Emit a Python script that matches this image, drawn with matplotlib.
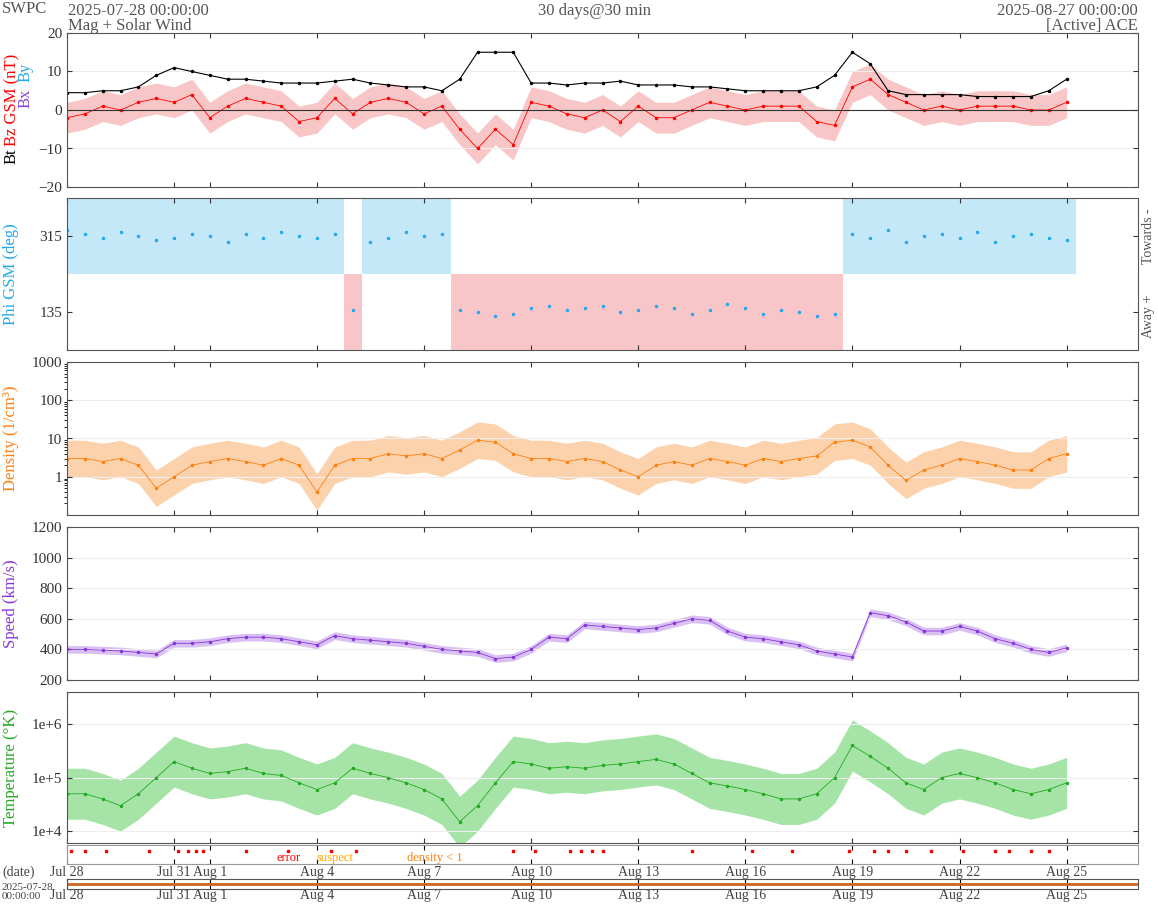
import numpy as np
import matplotlib
matplotlib.use("Agg")
import matplotlib.pyplot as plt

plt.rcParams['font.family'] = ['Liberation Serif', 'DejaVu Serif']

days = [i * 0.5 for i in range(57)]
bt = [4.5,4.5,5,5,6,9,11,10,9,8,8,7.5,7,7,7,7.5,8,7,6.5,6,6,5,8,15,15,15,7,7,6.5,7,7,7.5,6.5,6.5,6.5,6,6,5.5,5,5,5,5,6,9,15,12,5,4,4,4,4,3.5,3.5,3.5,3.5,5,8]
bz = [-2,-1,1,0,2,3,2,4,-2,1,3,2,1,-3,-2,3,-1,2,3,2,-1,1,-5,-10,-5,-9,2,1,-1,-2,0,-3,1,-2,-2,0,2,1,0,1,1,1,-3,-4,6,8,4,2,0,1,0,1,1,1,0,0,2]
phi = [330,320,310,325,315,305,310,320,315,300,320,310,325,315,310,320,140,300,310,325,315,320,140,135,125,130,145,150,140,145,150,135,140,150,145,130,140,155,145,130,140,135,125,130,320,310,330,300,315,320,310,325,300,315,320,310,305]
dens = [3,3,2.5,3,2,0.5,1,2,2.5,3,2.5,2,3,2,0.4,2,3,3,4,3.5,4,3,5,9,8,4,3,3,2.5,3,2.5,1.5,1,2,2.5,2,3,2.5,2,3,2.5,3,3.5,8,9,6,2,0.8,1.5,2,3,2.5,2,1.5,1.5,3,4]
speed = [400,400,395,390,380,370,440,440,450,470,480,480,470,450,430,490,470,460,450,440,420,400,390,380,340,350,400,480,470,560,550,540,530,540,570,600,590,520,480,470,450,430,390,370,350,640,620,580,520,520,550,520,470,440,400,380,410]
temp = [5e4,5e4,4e4,3e4,5e4,1e5,2e5,1.5e5,1.2e5,1.3e5,1.5e5,1.2e5,1.1e5,8e4,6e4,8e4,1.5e5,1.2e5,1e5,8e4,6e4,4e4,1.5e4,3e4,8e4,2e5,1.8e5,1.5e5,1.6e5,1.5e5,1.7e5,1.8e5,2e5,2.2e5,1.8e5,1.2e5,8e4,7e4,6e4,5e4,4e4,4e4,5e4,1e5,4e5,2.5e5,1.5e5,8e4,6e4,1e5,1.2e5,1e5,8e4,6e4,5e4,6e4,8e4]
flag_err = [0.1,0.5,1.1,2.3,3.1,3.4,3.6,3.8,5.0,6.2,7.4,8.1,12.5,13.1,14.1,14.4,14.7,15.0,17.5,19.2,20.3,21.9,22.6,23.0,23.5,24.2,25.1,26.0,26.4,27.0,27.5]

tick_days = [0,3,4,7,10,13,16,19,22,25,28]
tick_lbls = ['Jul 28','Jul 31','Aug 1','Aug 4','Aug 7','Aug 10','Aug 13','Aug 16','Aug 19','Aug 22','Aug 25']

W, H = 1158, 905
fig = plt.figure(figsize=(W/100, H/100), dpi=100)
def ax_px(top, bot, l=67, r=1138):
    return fig.add_axes([l/W, 1-bot/H, (r-l)/W, (bot-top)/H])

gray = '#555555'
panels = [(33,187),(198,350),(362,515),(527,680),(692,843)]
axs = [ax_px(t,b) for t,b in panels]
d = np.array(days)
for a in axs:
    a.set_xlim(0,30)
    a.set_xticks(tick_days); a.set_xticklabels([])
    a.tick_params(direction='in', top=True, right=True, labelsize=11, colors='#333333')
    a.grid(axis='y', color='#eeeeee', lw=0.8)
    for s in a.spines.values(): s.set_color('#555555')

# panel 1
a = axs[0]
a.fill_between(d, np.array(bz)-4, np.array(bz)+4, color='#f4a0a0', alpha=0.6, lw=0)
a.plot(d, bz, color='red', lw=0.6, marker='.', ms=3)
a.plot(d, bt, color='black', lw=0.8, marker='.', ms=3)
a.axhline(0, color='#333333', lw=0.8)
a.set_ylim(-20,20); a.set_yticks([-20,-10,0,10,20])
fig.text(12/W, 1-156/H, 'Bt', rotation=90, color='black', fontsize=12, va='center', ha='center')
fig.text(12/W, 1-100/H, 'Bz GSM (nT)', rotation=90, color='red', fontsize=12, va='center', ha='center')
fig.text(26/W, 1-98/H, 'Bx', rotation=90, color='#8844dd', fontsize=12, va='center', ha='center')
fig.text(26/W, 1-72/H, 'By', rotation=90, color='#22aaee', fontsize=12, va='center', ha='center')

# panel 2
a = axs[1]
ph = np.array(phi)
tow = ph > 225
a.bar(d[tow], 180, bottom=225, width=0.5, color='#c5e8f8', align='center')
a.bar(d[~tow], 180, bottom=45, width=0.5, color='#f8c5c8', align='center')
a.plot(d, ph, ls='none', marker='.', ms=3, color='#22aaee')
a.set_ylim(45,405); a.set_yticks([135,315]); a.grid(False)
a.text(1.004, 0.75, 'Towards -', rotation=90, transform=a.transAxes, va='center', color=gray, fontsize=10)
a.text(1.004, 0.22, 'Away +', rotation=90, transform=a.transAxes, va='center', color=gray, fontsize=10)
a.set_ylabel('Phi GSM (deg)', color='#22aaee', fontsize=12)

# panel 3
a = axs[2]
dn = np.array(dens)
a.fill_between(d, dn/3, dn*3, color='#fbbf8a', alpha=0.7, lw=0)
a.plot(d, dn, color='#ff7f0e', lw=0.6, marker='.', ms=3)
a.set_yscale('log'); a.set_ylim(0.1,1000)
a.set_yticks([1,10,100,1000]); a.set_yticklabels(['1','10','100','1000'])
a.set_xlim(0,30)
a.set_ylabel('Density (1/cm³)', color='#ff7f0e', fontsize=12)

# panel 4
a = axs[3]
sp = np.array(speed)
a.fill_between(d, sp-25, sp+25, color='#c9a6ee', alpha=0.7, lw=0)
a.plot(d, sp, color='#8833dd', lw=0.6, marker='.', ms=3)
a.set_ylim(200,1200); a.set_yticks(range(200,1201,200))
a.set_ylabel('Speed (km/s)', color='#8833dd', fontsize=12)

# panel 5
a = axs[4]
tp = np.array(temp)
a.fill_between(d, tp/3, tp*3, color='#90dd90', alpha=0.8, lw=0)
a.plot(d, tp, color='#22aa22', lw=0.6, marker='.', ms=3)
a.set_yscale('log'); a.set_ylim(6e3,4e6)
a.set_yticks([1e4,1e5,1e6]); a.set_yticklabels(['1e+4','1e+5','1e+6'])
a.minorticks_off(); a.set_xlim(0,30)
a.set_ylabel('Temperature (°K)', color='#22aa22', fontsize=12)
for a in axs:
    a.yaxis.set_label_coords(-0.045, 0.5)

# flags strip
f = ax_px(845, 864)
f.set_xlim(0,30); f.set_ylim(0,1); f.set_yticks([])
f.set_xticks(tick_days); f.set_xticklabels([])
f.tick_params(direction='in', top=True)
f.plot(flag_err, [0.7]*len(flag_err), ls='none', marker='s', ms=2, color='red')
f.text(6.2, 0.15, 'error', color='red', fontsize=9, ha='center')
f.text(7.5, 0.15, 'suspect', color='orange', fontsize=9, ha='center')
f.text(10.3, 0.15, 'density < 1', color='#ff7f0e', fontsize=9, ha='center')
for s in f.spines.values(): s.set_color('#999999')

# date axis
t = ax_px(879, 889)
t.set_xlim(0,30); t.set_ylim(0,1); t.set_yticks([])
t.axhline(0.5, color='#cc6622', lw=2)
t.set_xticks(tick_days); t.set_xticklabels(tick_lbls, fontsize=10, color='#444444')
t.tick_params(direction='in', top=True, labeltop=True, labelsize=10, pad=0, length=3)
for s in t.spines.values(): s.set_color('#555555')
fig.text(2/W, 1-876/H, '(date)', fontsize=10, color='#444444')
fig.text(2/W, 1-899/H, '2025-07-28\n00:00:00', fontsize=8, color='#444444', linespacing=1.0)

# header
fig.text(2/W, 1-13/H, 'SWPC', fontsize=12, color=gray)
fig.text(68/W, 1-15/H, '2025-07-28 00:00:00', fontsize=12, color=gray)
fig.text(68/W, 1-30/H, 'Mag + Solar Wind', fontsize=12, color=gray)
fig.text(594/W, 1-15/H, '30 days@30 min', fontsize=12, color=gray, ha='center')
fig.text(1138/W, 1-15/H, '2025-08-27 00:00:00', fontsize=12, color=gray, ha='right')
fig.text(1138/W, 1-30/H, '[Active] ACE', fontsize=12, color=gray, ha='right')

fig.savefig('out.png', dpi=100)
